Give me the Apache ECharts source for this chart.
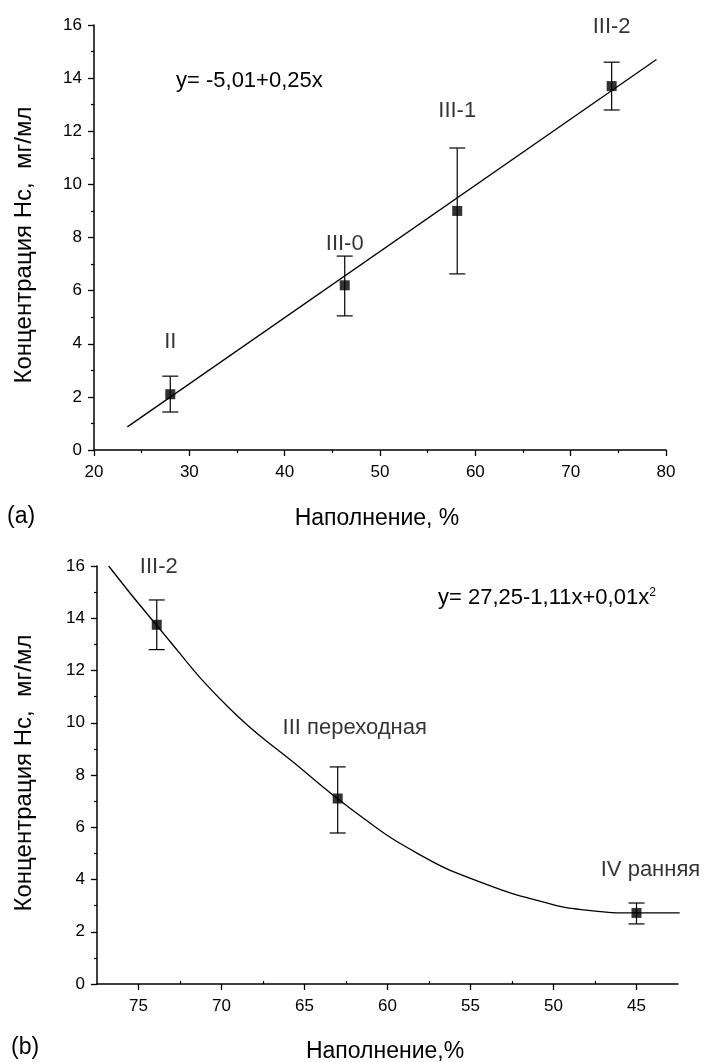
<!DOCTYPE html>
<html>
<head>
<meta charset="utf-8">
<script src="https://cdn.jsdelivr.net/npm/echarts@6/dist/echarts.min.js"></script>
<style>
html,body{margin:0;padding:0;background:#fff;}
#c{width:705px;height:1062px;}
</style>
</head>
<body>
<div id="c"></div>
<script>
// ---- Panel (a) data ----
const namesA = ['II', 'III-0', 'III-1', 'III-2'];
const xA = [28, 46.3, 58.1, 74.3];
const yA = [2.1, 6.2, 9.0, 13.7];
const lowA = [1.43, 5.05, 6.63, 12.8];
const highA = [2.78, 7.3, 11.37, 14.6];
const fitAx = [23.5, 79];
const fitAy = [0.87, 14.7];
const xTicksA = [20, 30, 40, 50, 60, 70, 80];
const yTicks = [0, 2, 4, 6, 8, 10, 12, 14, 16];

// ---- Panel (b) data ----
const namesB = ['III-2', 'III переходная', 'IV ранняя'];
const xB = [73.9, 63.0, 45.0];
const yB = [13.75, 7.1, 2.72];
const lowB = [12.8, 5.78, 2.3];
const highB = [14.7, 8.31, 3.1];
const fitBx = [76.8, 74.0, 69.6, 65.5, 62.2, 58.2, 54.2, 50.2, 48.2, 45.0, 42.4];
const fitBy = [16.0, 13.8, 10.6, 8.4, 6.7, 5.0, 3.85, 3.07, 2.84, 2.72, 2.72];
const xTicksB = [75, 70, 65, 60, 55, 50, 45];
const xMinorB = [72.5, 67.5, 62.5, 57.5, 52.5, 47.5];

// ---- styles ----
const FONT = "'Liberation Sans', Arial, sans-serif";
const TXT = '#000';
const labelOffA = [[0, -52], [0, -41], [0, -100], [0, -59]];
const labelOffB = [[2, -58], [17, -71], [14, -43]];

const chart = echarts.init(document.getElementById('c'), null, {renderer: 'canvas'});

function axisBase(margin) {
  return {
    axisLine: {show: true, onZero: false, lineStyle: {color: '#000', width: 1.5}},
    axisTick: {show: true, length: 6, lineStyle: {color: '#000', width: 1.3}},
    minorTick: {show: true, splitNumber: 2, length: 3, lineStyle: {color: '#000', width: 1.2}},
    splitLine: {show: false},
    axisLabel: {color: TXT, fontFamily: FONT, fontSize: 17, margin: margin}
  };
}

function errRender(params, api) {
  const x = api.value(0);
  const top = api.coord([x, api.value(2)]);
  const bot = api.coord([x, api.value(1)]);
  const w = 8;
  const st = {stroke: '#000', lineWidth: 1.2};
  return {
    type: 'group',
    children: [
      {type: 'line', shape: {x1: top[0], y1: top[1], x2: bot[0], y2: bot[1]}, style: st},
      {type: 'line', shape: {x1: top[0] - w, y1: top[1], x2: top[0] + w, y2: top[1]}, style: st},
      {type: 'line', shape: {x1: bot[0] - w, y1: bot[1], x2: bot[0] + w, y2: bot[1]}, style: st}
    ]
  };
}

const yAxisCommon = function (gi) {
  return Object.assign(axisBase(12), {
    type: 'value', gridIndex: gi, min: yTicks[0], max: yTicks[yTicks.length - 1], interval: 2
  });
};

const option = {
  backgroundColor: '#fff',
  animation: false,
  textStyle: {fontFamily: FONT},
  grid: [
    {left: 94, right: 39, top: 25, height: 425},
    {left: 97, right: 27, top: 566, height: 418}
  ],
  xAxis: [
    Object.assign(axisBase(14), {type: 'value', gridIndex: 0, min: xTicksA[0], max: xTicksA[xTicksA.length - 1], interval: 10}),
    Object.assign(axisBase(14), {
      type: 'value', gridIndex: 1, min: 42.5, max: 77.5, inverse: true,
      minorTick: {show: false},
      axisTick: {show: true, length: 6, customValues: xTicksB, lineStyle: {color: '#000', width: 1.3}},
      axisLabel: {color: TXT, fontFamily: FONT, fontSize: 17, margin: 14, customValues: xTicksB}
    }),
    {
      type: 'value', gridIndex: 1, min: 42.5, max: 77.5, inverse: true,
      axisLine: {show: false},
      splitLine: {show: false},
      axisLabel: {show: false, customValues: xMinorB},
      axisTick: {show: true, length: 3, customValues: xMinorB, lineStyle: {color: '#000', width: 1.2}}
    }
  ],
  yAxis: [yAxisCommon(0), yAxisCommon(1)],
  series: [
    {
      type: 'line', xAxisIndex: 0, yAxisIndex: 0, symbol: 'none',
      lineStyle: {color: '#000', width: 1.3},
      data: fitAx.map((x, i) => [x, fitAy[i]]), z: 2
    },
    {
      type: 'custom', xAxisIndex: 0, yAxisIndex: 0, renderItem: errRender,
      data: xA.map((x, i) => [x, lowA[i], highA[i]]), z: 3
    },
    {
      type: 'scatter', xAxisIndex: 0, yAxisIndex: 0, symbol: 'rect', symbolSize: 10,
      itemStyle: {color: '#000'}, z: 4,
      data: xA.map((x, i) => ({
        value: [x, yA[i]], name: namesA[i],
        label: {show: true, position: 'inside', offset: labelOffA[i], formatter: '{b}', color: TXT, fontSize: 22, fontFamily: FONT}
      }))
    },
    {
      type: 'line', xAxisIndex: 1, yAxisIndex: 1, symbol: 'none', smooth: 0.5,
      lineStyle: {color: '#000', width: 1.3},
      data: fitBx.map((x, i) => [x, fitBy[i]]), z: 2
    },
    {
      type: 'custom', xAxisIndex: 1, yAxisIndex: 1, renderItem: errRender,
      data: xB.map((x, i) => [x, lowB[i], highB[i]]), z: 3
    },
    {
      type: 'scatter', xAxisIndex: 1, yAxisIndex: 1, symbol: 'rect', symbolSize: 10,
      itemStyle: {color: '#000'}, z: 4,
      data: xB.map((x, i) => ({
        value: [x, yB[i]], name: namesB[i],
        label: {show: true, position: 'inside', offset: labelOffB[i], formatter: '{b}', color: TXT, fontSize: 22, fontFamily: FONT}
      }))
    }
  ],
  graphic: [
    {type: 'text', left: 176, top: 70, style: {text: 'y= -5,01+0,25x', fill: TXT, font: '22px ' + FONT}},
    {type: 'text', left: 438, top: 587, style: {
      text: '{n|y= 27,25-1,11x+0,01x}{s|2}', fill: TXT, font: '22px ' + FONT,
      rich: {n: {fontSize: 22, fontFamily: FONT, fill: TXT}, s: {fontSize: 12, fontFamily: FONT, fill: TXT, verticalAlign: 'top', padding: [0, 0, 10, 0]}}
    }},
    {type: 'text', x: 24, y: 245, rotation: Math.PI / 2, style: {text: 'Концентрация Нс,  мг/мл', fill: TXT, font: '24px ' + FONT, align: 'center', verticalAlign: 'middle'}},
    {type: 'text', x: 24, y: 773, rotation: Math.PI / 2, style: {text: 'Концентрация Нс,  мг/мл', fill: TXT, font: '24px ' + FONT, align: 'center', verticalAlign: 'middle'}},
    {type: 'text', x: 377, y: 519, style: {text: 'Наполнение, %', fill: TXT, font: '23px ' + FONT, align: 'center', verticalAlign: 'middle'}},
    {type: 'text', x: 385, y: 1052, style: {text: 'Наполнение,%', fill: TXT, font: '23px ' + FONT, align: 'center', verticalAlign: 'middle'}},
    {type: 'text', x: 7, y: 517, style: {text: '(a)', fill: TXT, font: '23px ' + FONT, verticalAlign: 'middle'}},
    {type: 'text', x: 11, y: 1048, style: {text: '(b)', fill: TXT, font: '23px ' + FONT, verticalAlign: 'middle'}}
  ]
};
chart.setOption(option);
</script>
</body>
</html>
